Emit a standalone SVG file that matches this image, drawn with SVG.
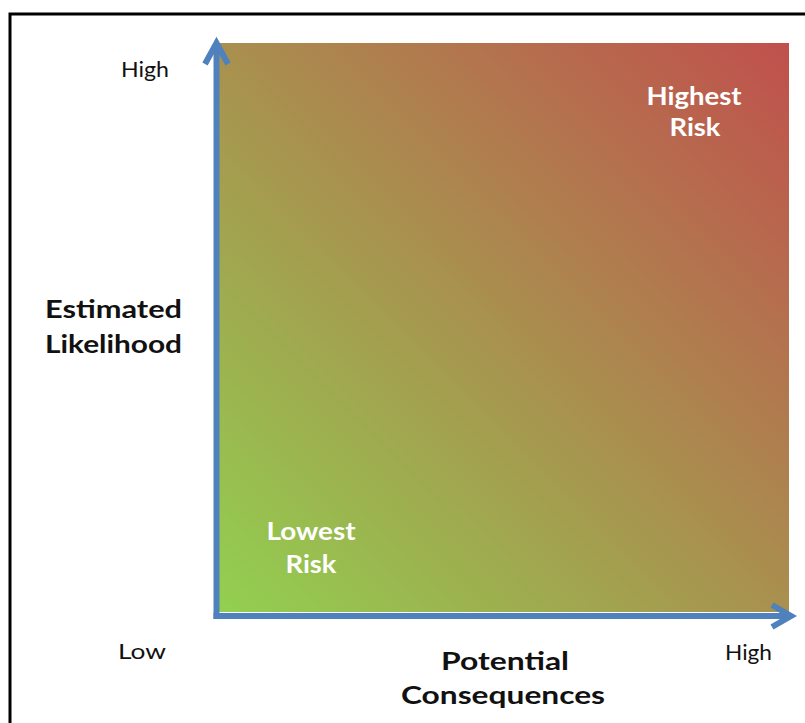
<svg xmlns="http://www.w3.org/2000/svg" width="805" height="723" viewBox="0 0 805 723">
<defs>
<linearGradient id="risk" x1="0" y1="1" x2="1" y2="0">
<stop offset="0" stop-color="#92d050"/>
<stop offset="1" stop-color="#c0504d"/>
</linearGradient>
</defs>
<style>
.lbl{font-family:Lato,"Liberation Sans",sans-serif;fill:#111;}
.reg{font-size:22px;font-weight:400;}
.bold{font-size:25px;font-weight:700;}
.zone{font-family:Lato,"Liberation Sans",sans-serif;font-size:24px;font-weight:700;fill:#ffffff;}
.axis{fill:none;stroke:#4f81bd;stroke-width:6;stroke-linejoin:miter;}
</style>
<rect x="0" y="0" width="805" height="723" fill="#ffffff"/>
<rect x="10" y="14" width="820" height="740" fill="none" stroke="#000" stroke-width="3"/>
<g id="matrix">
<rect x="218" y="43" width="571" height="569" fill="url(#risk)"/>
</g>
<g id="connectors">
<path class="axis" d="M216.5,619 V44"/>
<path class="axis" d="M205,64 L216.5,43 L228,64"/>
<path class="axis" d="M213.5,616 H790"/>
<path class="axis" d="M772,605 L791,616 L772,627"/>
</g>
<g id="node-high-risk">
<text class="zone" x="694" y="105" text-anchor="middle" textLength="95" lengthAdjust="spacingAndGlyphs">Highest</text>
<text class="zone" x="695" y="136" text-anchor="middle" textLength="51" lengthAdjust="spacingAndGlyphs">Risk</text>
</g>
<g id="node-low-risk">
<text class="zone" x="311" y="540" text-anchor="middle" textLength="89" lengthAdjust="spacingAndGlyphs">Lowest</text>
<text class="zone" x="311" y="573" text-anchor="middle" textLength="51" lengthAdjust="spacingAndGlyphs">Risk</text>
</g>
<g id="y-axis-labels">
<text class="lbl reg" x="121" y="77" textLength="48" lengthAdjust="spacingAndGlyphs">High</text>
<text class="lbl bold" x="45" y="318" textLength="137" lengthAdjust="spacingAndGlyphs">Estimated</text>
<text class="lbl bold" x="45" y="353" textLength="137" lengthAdjust="spacingAndGlyphs">Likelihood</text>
<text class="lbl reg" x="118" y="659" textLength="48" lengthAdjust="spacingAndGlyphs">Low</text>
</g>
<g id="x-axis-labels">
<text class="lbl bold" x="505" y="670" text-anchor="middle" textLength="128" lengthAdjust="spacingAndGlyphs">Potential</text>
<text class="lbl bold" x="503" y="704" text-anchor="middle" textLength="204" lengthAdjust="spacingAndGlyphs">Consequences</text>
<text class="lbl reg" x="725" y="660" textLength="47" lengthAdjust="spacingAndGlyphs">High</text>
</g>
</svg>
